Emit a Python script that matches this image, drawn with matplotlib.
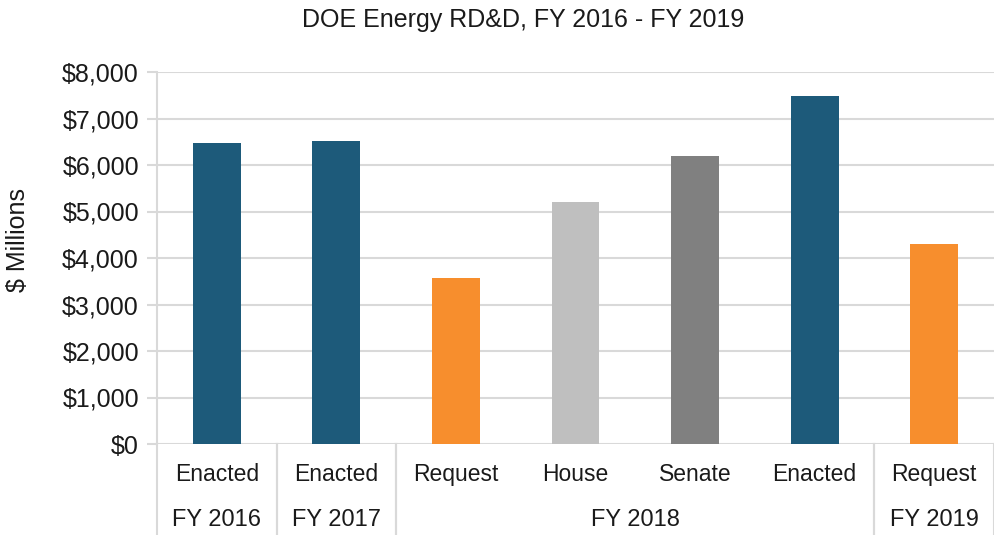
import matplotlib.pyplot as plt
from matplotlib.ticker import FuncFormatter

plt.rcParams['font.family'] = ['Liberation Sans', 'DejaVu Sans']

# data
stages = ["Enacted", "Enacted", "Request", "House", "Senate", "Enacted", "Request"]
values = [6470, 6510, 3570, 5200, 6190, 7480, 4300]
colors = ["#1D5A7A", "#1D5A7A", "#F78E2D", "#BFBFBF", "#808080", "#1D5A7A", "#F78E2D"]
years = ["FY 2016", "FY 2017", "FY 2018", "FY 2019"]
year_spans = [(0, 0), (1, 1), (2, 5), (6, 6)]

grid_col = "#D9D9D9"
txt_col = "#1a1a1a"

fig = plt.figure(figsize=(9.95, 5.35), dpi=100)
ax = fig.add_axes([157 / 995, 1 - 444 / 535, 1 - 157 / 995 - 0.001, (444 - 72) / 535])

x = list(range(len(values)))
ax.bar(x, values, width=0.4, color=colors, zorder=3)

ax.set_xlim(-0.5, len(values) - 0.5)
ax.set_ylim(0, 8000)
ax.set_yticks(range(0, 8001, 1000))
ax.yaxis.set_major_formatter(FuncFormatter(lambda v, p: f"${v:,.0f}"))
ax.tick_params(axis='y', length=7, width=1.5, color=grid_col, labelsize=18,
               labelcolor=txt_col, pad=6)
ax.set_xticks([])
ax.grid(axis='y', color=grid_col, linewidth=1.5, zorder=0)
for s in ['top', 'right', 'bottom']:
    ax.spines[s].set_visible(False)
ax.spines['left'].set_color(grid_col)
ax.spines['left'].set_linewidth(1.5)

# two-level category axis
tr = ax.get_xaxis_transform()
for i, s in enumerate(stages):
    ax.text(i, -0.083, s, transform=tr, ha='center', va='center', fontsize=16.5, color=txt_col)
for yr, (a, b) in zip(years, year_spans):
    ax.text((a + b) / 2, -0.204, yr, transform=tr, ha='center', va='center',
            fontsize=17, color=txt_col)
    for edge in (a - 0.5, b + 0.5):
        ax.plot([edge, edge], [0, -0.25], transform=tr, color=grid_col,
                linewidth=1.5, clip_on=False)

fig.text(523 / 995, 1 - 20 / 535, "DOE Energy RD&D, FY 2016 - FY 2019",
         ha='center', va='center', fontsize=18, color=txt_col)
fig.text(18 / 995, 1 - 240 / 535, "$ Millions", rotation=90, ha='center', va='center',
         fontsize=18, color=txt_col)

fig.savefig("out.png", dpi=100)
